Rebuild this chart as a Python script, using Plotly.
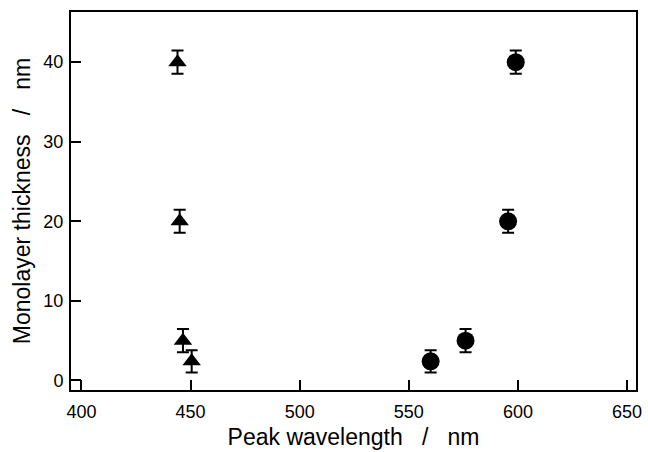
import plotly.graph_objects as go

# Triangles (blue-shifted peak)
tri_x = [444, 445, 446.5, 450.5]
tri_y = [40, 20, 5, 2.4]
tri_err = [1.45, 1.45, 1.45, 1.4]

# Circles (red-shifted peak)
circ_x = [599, 595.5, 576, 560]
circ_y = [40, 20, 5, 2.4]
circ_err = [1.45, 1.45, 1.45, 1.4]

x_ticks = [400, 450, 500, 550, 600, 650]
y_ticks = [0, 10, 20, 30, 40]

FONT = "Liberation Sans, Arial, Helvetica, sans-serif"
NB = "\u00a0"

fig = go.Figure()
fig.add_trace(go.Scatter(
    x=tri_x, y=tri_y, mode="markers",
    marker=dict(symbol="triangle-up", size=16, color="black"),
    error_y=dict(type="data", array=tri_err, visible=True, color="black", thickness=2, width=6),
    showlegend=False,
))
fig.add_trace(go.Scatter(
    x=circ_x, y=circ_y, mode="markers",
    marker=dict(symbol="circle", size=18, color="black"),
    error_y=dict(type="data", array=circ_err, visible=True, color="black", thickness=2, width=6),
    showlegend=False,
))

fig.update_layout(
    width=648, height=452,
    margin=dict(l=71, r=6, t=12, b=62),
    paper_bgcolor="white", plot_bgcolor="white",
    font=dict(family=FONT, color="black", size=18),
    xaxis=dict(
        range=[395.2, 654.1], tickvals=x_ticks, ticktext=[str(v) for v in x_ticks],
        ticks="inside", ticklen=10, tickwidth=2, tickcolor="black",
        showline=True, linewidth=2, linecolor="black", mirror=True,
        showgrid=False, zeroline=False,
        tickfont=dict(size=18), ticklabelstandoff=4,
        title=dict(text=NB * 2 + "Peak wavelength" + NB * 3 + "/" + NB * 3 + "nm", font=dict(size=23), standoff=8),
    ),
    yaxis=dict(
        range=[-1.2, 46.3], tickvals=y_ticks, ticktext=[str(v) for v in y_ticks],
        ticks="inside", ticklen=10, tickwidth=2, tickcolor="black",
        showline=True, linewidth=2, linecolor="black", mirror=True,
        showgrid=False, zeroline=False,
        tickfont=dict(size=18), ticklabelstandoff=2,
        title=dict(text="Monolayer thickness" + NB * 3 + "/" + NB * 3 + "nm", font=dict(size=23), standoff=6),
    ),
)

fig.write_html("out.html")
